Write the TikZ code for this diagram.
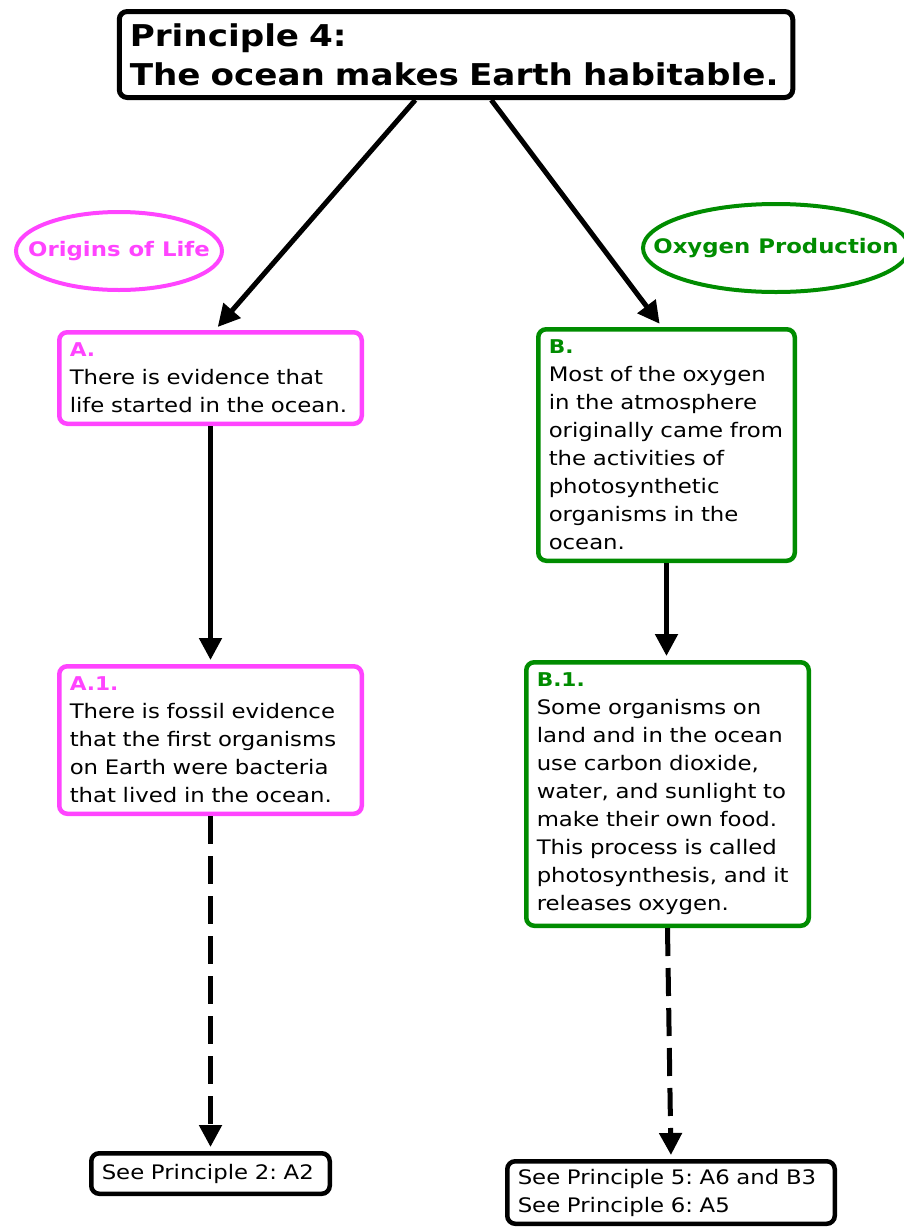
\documentclass[tikz,border=0pt]{standalone}
\usepackage{fontspec}
\setmainfont{DejaVu Sans}[FakeStretch=1.14]
\usetikzlibrary{shapes.geometric,arrows.meta,calc}
\definecolor{mag}{RGB}{255,68,255}
\definecolor{grn}{RGB}{0,140,0}
\tikzset{
  box/.style={draw, rounded corners=8pt, line width=4.5pt, inner xsep=10.5pt, inner ysep=0pt,
    align=left, fill=white, font=\frenchspacing\fontsize{20}{28}\selectfont},
  oval/.style={ellipse, draw, line width=4pt, inner sep=0pt, font=\fontsize{20}{24}\selectfont\bfseries},
  conn/.style={line width=5pt, -{Triangle[length=22pt,width=22pt]}},
  dconn/.style={conn, dash pattern=on 28pt off 12pt},
}
\newcommand{\lab}[2]{{\color{#1}\fontsize{19}{28}\selectfont\bfseries #2}}
\begin{document}
\begin{tikzpicture}[x=1pt,y=-1pt]
\useasboundingbox (0,0) rectangle (904,1229);
\node[box, line width=5pt, text width=652.5pt, minimum height=86pt,
      font=\fontsize{30}{39}\selectfont\bfseries] (title) at (456,54.5)
  {\mbox{Principle 4:}\\\mbox{The ocean makes Earth habitable.}};
\node[oval, mag, minimum width=206pt, minimum height=78pt] (oA) at (119,251) {\makebox[0pt]{Origins of Life}};
\node[oval, grn, minimum width=266pt, minimum height=88pt] (oB) at (776,248) {\makebox[0pt]{Oxygen Production}};
\node[box, draw=mag, text width=281.5pt, minimum height=91.5pt] (A) at (210.5,378)
  {\lab{mag}{A.}\\\mbox{There is evidence that}\\\mbox{life started in the ocean.}};
\node[box, draw=mag, text width=281.5pt, minimum height=147.5pt] (A1) at (210.5,740)
  {\lab{mag}{A.1.}\\\mbox{There is fossil evidence}\\\mbox{that the first organisms}\\\mbox{on Earth were bacteria}\\\mbox{that lived in the ocean.}};
\node[box, draw=grn, text width=235.5pt, minimum height=231.5pt] (B) at (666.5,445)
  {\lab{grn}{B.}\\\mbox{Most of the oxygen}\\\mbox{in the atmosphere}\\\mbox{originally came from}\\\mbox{the activities of}\\\mbox{photosynthetic}\\\mbox{organisms in the}\\\mbox{ocean.}};
\node[box, draw=grn, text width=261.5pt, minimum height=263.5pt] (B1) at (667.5,794)
  {\lab{grn}{B.1.}\\\mbox{Some organisms on}\\\mbox{land and in the ocean}\\\mbox{use carbon dioxide,}\\\mbox{water, and sunlight to}\\\mbox{make their own food.}\\\mbox{This process is called}\\\mbox{photosynthesis, and it}\\\mbox{releases oxygen.}};
\node[box, text width=217.5pt, minimum height=40.5pt] (P2) at (210.5,1173.5)
  {\mbox{See Principle 2: A2}};
\node[box, text width=306.5pt, minimum height=62.5pt] (P5) at (671,1192.5)
  {\mbox{See Principle 5: A6 and B3}\\\mbox{See Principle 6: A5}};
\draw[conn, shorten >=4pt] ($(title.south west)!0.44!(title.south east)$) -- ($(A.north west)!0.515!(A.north east)$);
\draw[conn, shorten >=4pt] ($(title.south west)!0.552!(title.south east)$) -- ($(B.north west)!0.483!(B.north east)$);
\draw[conn, shorten >=4pt] (A.south) -- (A1.north);
\draw[conn, shorten >=4pt] (B.south) -- (B.south |- B1.north);
\draw[dconn, shorten >=4pt] (A1.south) -- (P2.north);
\draw[dconn, shorten >=4pt] (B1.south) -- (P5.north);
\end{tikzpicture}
\end{document}
